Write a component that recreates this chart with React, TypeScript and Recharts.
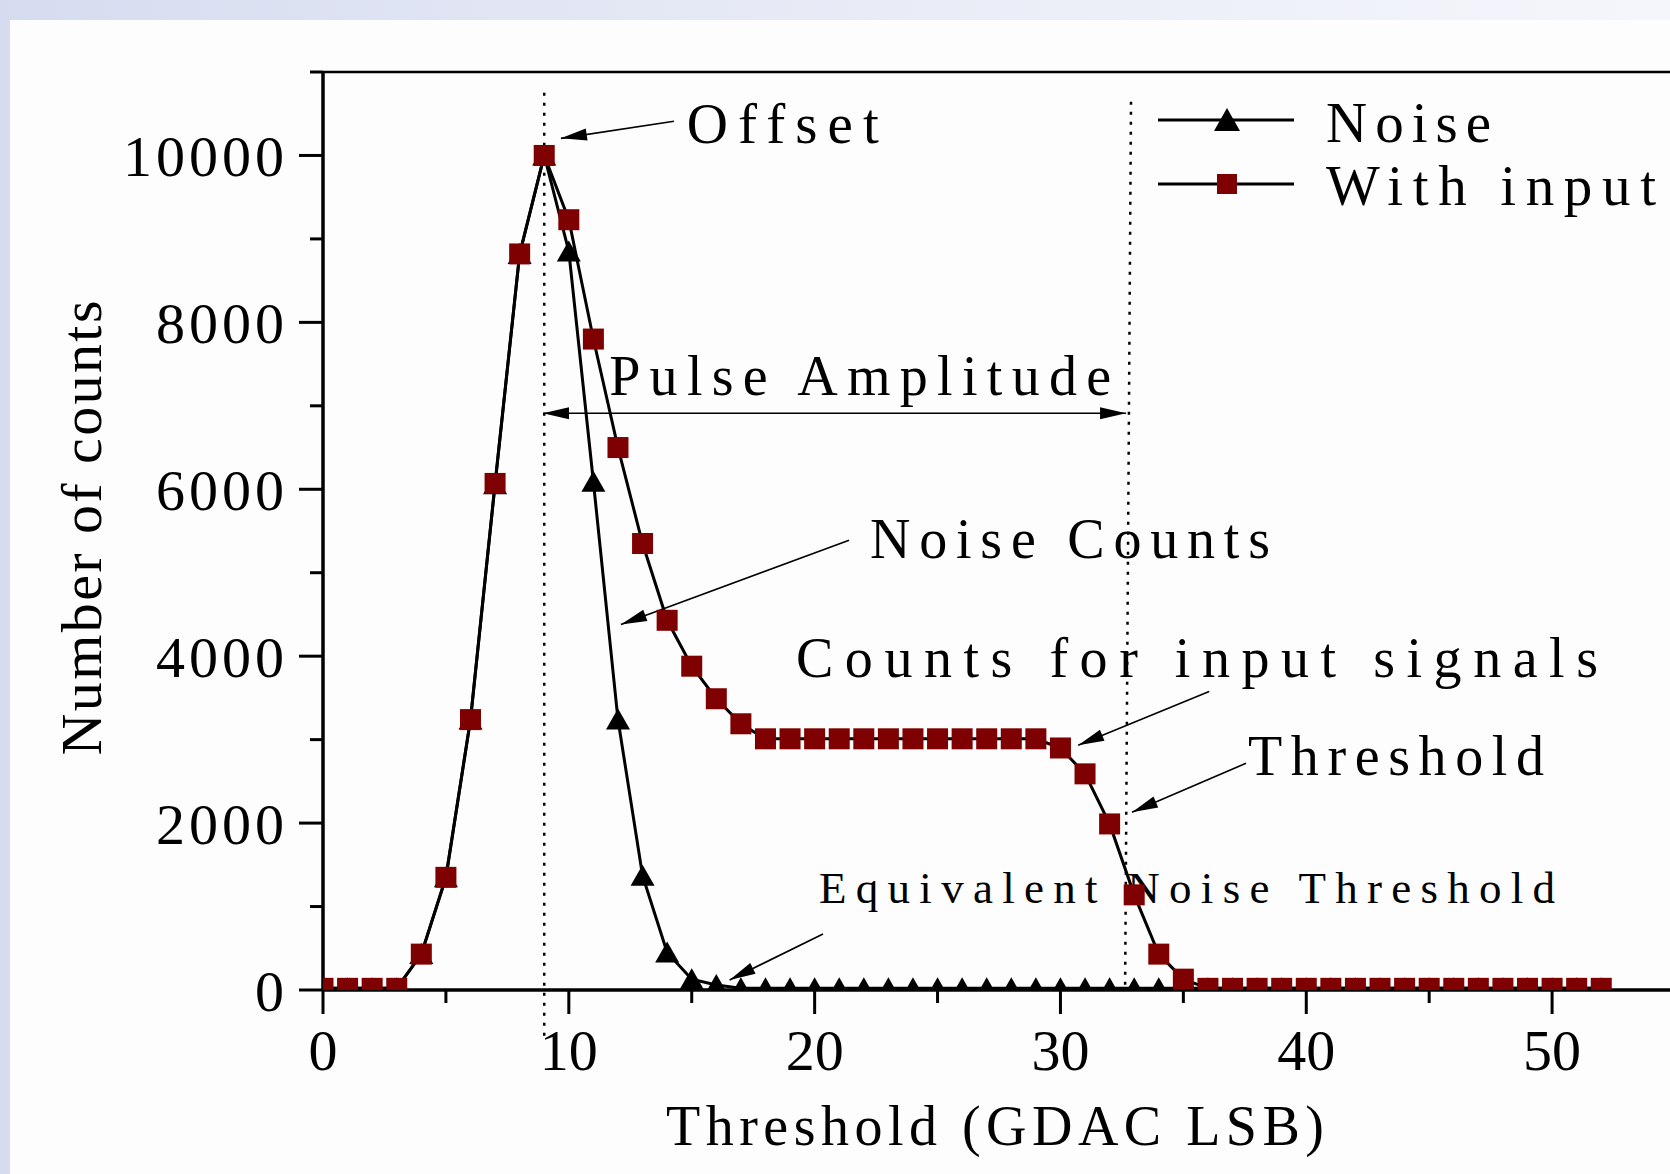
import React from "react";
import { LineChart, Line, XAxis, YAxis, ReferenceLine, ReferenceDot, Legend } from "recharts";

// threshold steps (GDAC LSB)
const thresholds = [
  0, 1, 2, 3, 4, 5, 6, 7, 8, 9, 10, 11, 12, 13, 14, 15, 16, 17, 18, 19, 20, 21, 22, 23, 24, 25, 26,
  27, 28, 29, 30, 31, 32, 33, 34, 35, 36, 37, 38, 39, 40, 41, 42, 43, 44, 45, 46, 47, 48, 49, 50, 51, 52,
];

const noiseCounts = [
  20, 20, 20, 20, 430, 1350, 3240, 6060, 8820, 10000, 8850, 6090, 3240, 1370, 450, 130, 60, 20, 20, 20,
  20, 20, 20, 20, 20, 20, 20, 20, 20, 20, 20, 20, 20, 20, 20, 20, 20, 20, 20, 20, 20, 20, 20, 20, 20, 20,
  20, 20, 20, 20, 20, 20, 20,
];

const inputCounts = [
  20, 20, 20, 20, 430, 1350, 3240, 6070, 8820, 10000, 9230, 7800, 6500, 5350, 4430, 3880, 3490, 3190,
  3010, 3010, 3010, 3010, 3010, 3010, 3010, 3010, 3010, 3010, 3010, 3010, 2900, 2590, 1990, 1140, 430,
  130, 20, 20, 20, 20, 20, 20, 20, 20, 20, 20, 20, 20, 20, 20, 20, 20, 20,
];

const xTicks = [0, 5, 10, 15, 20, 25, 30, 35, 40, 45, 50, 55];
const yTicks = [0, 1000, 2000, 3000, 4000, 5000, 6000, 7000, 8000, 9000, 10000, 11000];

// annotations (text anchored at its left baseline, in data units)
const noteTexts = ["Offset", "Pulse Amplitude", "Noise Counts", "Counts for input signals", "Threshold", "Equivalent Noise Threshold"];
const noteX = [14.8, 11.64, 22.25, 19.24, 37.63, 20.18];
const noteY = [10151, 7128, 5172, 3756, 2580, 1044];

// arrows: start -> tip
const arrowFromX = [14.28, 21.4, 36.05, 37.55, 20.34];
const arrowFromY = [10409, 5388, 3576, 2717, 672];
const arrowToX = [9.68, 12.12, 30.72, 32.91, 16.54];
const arrowToY = [10205, 4380, 2934, 2129, 120];

// pulse amplitude span
const spanX = [8.95, 32.67];
const spanY = 6911;

const offsetX = 9;
const thresholdX = [32.87, 32.63];

const rows = thresholds.map((x, i) => ({ x, noise: noiseCounts[i], input: inputCounts[i] }));

const FONT = '"Liberation Serif", "DejaVu Serif", serif';
const RED = "#7f0000";
const noteWidths = [192, 502, 400, 802, 296, 736];
const noteSizes = [57, 56, 56, 56, 56, 45];

const TriangleDot = (p: any) => {
  const { cx, cy } = p;
  if (cx == null || cy == null) return <g key={`t-${p.index}`} />;
  return <polygon key={`t-${p.index}`} points={`${cx},${cy - 11} ${cx + 12},${cy + 10} ${cx - 12},${cy + 10}`} fill="#000" />;
};

const SquareDot = (p: any) => {
  const { cx, cy } = p;
  if (cx == null || cy == null) return <g key={`s-${p.index}`} />;
  return <rect key={`s-${p.index}`} x={cx - 10.5} y={cy - 10.5} width={21} height={21} fill={RED} />;
};

const head = (x: number, y: number, a: number) => {
  const L = 26, W = 6;
  const bx = x - L * Math.cos(a), by = y - L * Math.sin(a);
  return `${x},${y} ${bx + W * Math.sin(a)},${by - W * Math.cos(a)} ${bx - W * Math.sin(a)},${by + W * Math.cos(a)}`;
};

const arrowShape = (both: boolean) => (p: any) => {
  const { x1, y1, x2, y2 } = p;
  const a = Math.atan2(y2 - y1, x2 - x1);
  return (
    <g>
      <line x1={x1} y1={y1} x2={x2} y2={y2} stroke="#000" strokeWidth={1.6} />
      <polygon points={head(x2, y2, a)} fill="#000" />
      {both && <polygon points={head(x1, y1, a + Math.PI)} fill="#000" />}
    </g>
  );
};

const XTick = (p: any) => {
  const { x, y, payload } = p;
  const major = payload.value % 10 === 0;
  return (
    <g>
      <line x1={x} x2={x} y1={y} y2={y + (major ? 24 : 13)} stroke="#000" strokeWidth={3} />
      {major && (
        <text x={x} y={y + 80} textAnchor="middle" fontFamily={FONT} fontSize={58} fill="#000">
          {payload.value}
        </text>
      )}
    </g>
  );
};

const YTick = (p: any) => {
  const { x, y, payload } = p;
  const major = payload.value % 2000 === 0;
  return (
    <g>
      <line x1={x} x2={x - (major ? 24 : 13)} y1={y} y2={y} stroke="#000" strokeWidth={3} />
      {major && (
        <text x={x - 35} y={y + 21} textAnchor="end" fontFamily={FONT} fontSize={58} letterSpacing={4} fill="#000">
          {payload.value}
        </text>
      )}
    </g>
  );
};

const renderLegend = () => (
  <svg width={520} height={140}>
    <line x1={8} x2={144} y1={35} y2={35} stroke="#000" strokeWidth={3} />
    <polygon points="77,23 90,46 64,46" fill="#000" />
    <text x={176} y={57} fontFamily={FONT} fontSize={57} textLength={165} lengthAdjust="spacing">Noise</text>
    <line x1={8} x2={144} y1={99} y2={99} stroke="#000" strokeWidth={3} />
    <rect x={67} y={89} width={20} height={20} fill={RED} />
    <text x={176} y={120} fontFamily={FONT} fontSize={57} textLength={330} lengthAdjust="spacing">With input</text>
  </svg>
);

export default function App() {
  return (
    <div
      style={{
        position: "absolute",
        left: 0,
        top: 0,
        width: 1670,
        height: 1174,
        overflow: "hidden",
        background: "linear-gradient(90deg, #d6dcf0 0%, #e8ebf6 50%, #f5f6fb 100%)",
      }}
    >
      <div style={{ position: "absolute", left: 10, top: 20, right: 0, bottom: 0, background: "#fdfdfd" }} />
      <div style={{ position: "absolute", left: 0, top: 0 }}>
        <LineChart width={1700} height={1174} data={rows} margin={{ top: 72, right: 25, bottom: 0, left: 123 }}>
          <XAxis
            dataKey="x"
            type="number"
            domain={[0, 55]}
            ticks={xTicks}
            interval={0}
            allowDataOverflow
            height={184}
            tickSize={0}
            tickMargin={0}
            tickLine={false}
            tick={<XTick />}
            axisLine={{ stroke: "#000", strokeWidth: 3.5 }}
            label={(p: any) => (
              <text
                x={p.viewBox.x + 672}
                y={p.viewBox.y + 155}
                textAnchor="middle"
                fontFamily={FONT}
                fontSize={56}
                textLength={658}
                lengthAdjust="spacing"
              >
                Threshold (GDAC LSB)
              </text>
            )}
          />
          <YAxis
            type="number"
            domain={[0, 11000]}
            ticks={yTicks}
            interval={0}
            allowDataOverflow
            width={200}
            tickSize={0}
            tickMargin={0}
            tickLine={false}
            tick={<YTick />}
            axisLine={{ stroke: "#000", strokeWidth: 3.5 }}
            label={(p: any) => {
              const cx = p.viewBox.x + p.viewBox.width - 222;
              const cy = 528;
              return (
                <text
                  x={cx}
                  y={cy}
                  transform={`rotate(-90 ${cx} ${cy})`}
                  textAnchor="middle"
                  fontFamily={FONT}
                  fontSize={58}
                  textLength={455}
                  lengthAdjust="spacing"
                >
                  Number of counts
                </text>
              );
            }}
          />
          <ReferenceLine y={11000} stroke="#000" strokeWidth={2.5} ifOverflow="visible" />
          <ReferenceLine
            segment={[{ x: offsetX, y: 10751 }, { x: offsetX, y: -576 }]}
            stroke="#000"
            strokeWidth={2.5}
            strokeDasharray="3 7"
            ifOverflow="visible"
          />
          <ReferenceLine
            segment={[{ x: thresholdX[0], y: 10643 }, { x: thresholdX[1], y: 0 }]}
            stroke="#000"
            strokeWidth={2.5}
            strokeDasharray="3 7"
            ifOverflow="visible"
          />
          <ReferenceLine
            segment={[{ x: spanX[0], y: spanY }, { x: spanX[1], y: spanY }]}
            ifOverflow="visible"
            shape={arrowShape(true)}
          />
          {arrowFromX.map((fx, i) => (
            <ReferenceLine
              key={`arrow-${i}`}
              segment={[{ x: fx, y: arrowFromY[i] }, { x: arrowToX[i], y: arrowToY[i] }]}
              ifOverflow="visible"
              shape={arrowShape(false)}
            />
          ))}
          <Line
            dataKey="noise"
            type="linear"
            stroke="#000"
            strokeWidth={3}
            dot={TriangleDot}
            activeDot={false}
            isAnimationActive={false}
          />
          <Line
            dataKey="input"
            type="linear"
            stroke="#000"
            strokeWidth={3}
            dot={SquareDot}
            activeDot={false}
            isAnimationActive={false}
          />
          {noteTexts.map((t, i) => (
            <ReferenceDot
              key={`note-${i}`}
              x={noteX[i]}
              y={noteY[i]}
              r={0}
              ifOverflow="visible"
              shape={(p: any) => (
                <text
                  x={p.cx}
                  y={p.cy}
                  fontFamily={FONT}
                  fontSize={noteSizes[i]}
                  textLength={noteWidths[i]}
                  lengthAdjust="spacing"
                  fill="#000"
                >
                  {t}
                </text>
              )}
            />
          ))}
          <Legend
            layout="vertical"
            align="center"
            verticalAlign="middle"
            wrapperStyle={{ left: 1150, top: 85, width: 520, height: 140 }}
            content={renderLegend}
          />
        </LineChart>
      </div>
    </div>
  );
}
